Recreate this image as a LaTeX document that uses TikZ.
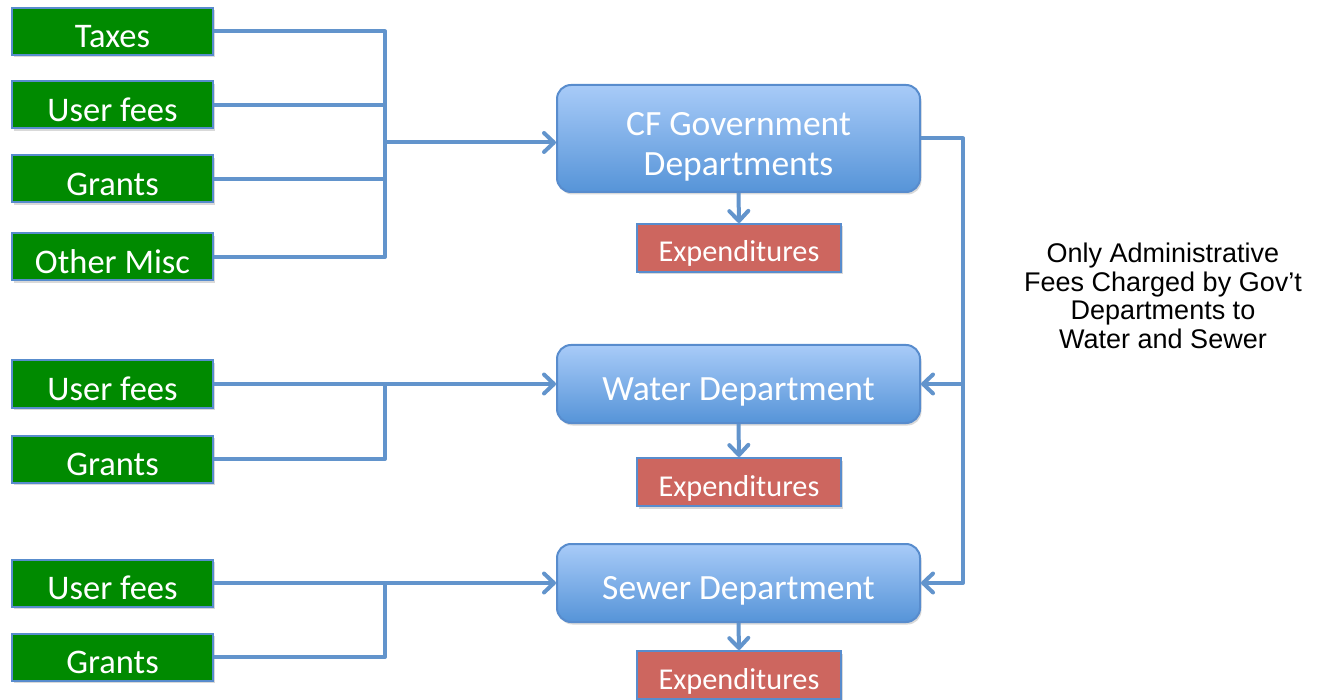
\documentclass[tikz,border=0pt]{standalone}
\usepackage{fontspec}
\setmainfont{Carlito}
\newfontfamily\arialfont{Liberation Sans}
\usetikzlibrary{arrows.meta,shadows,calc}
\definecolor{conn}{RGB}{98,148,204}
\definecolor{boxline}{RGB}{88,140,205}
\definecolor{grn}{RGB}{0,138,0}
\definecolor{redbox}{RGB}{205,102,95}
\definecolor{deptop}{RGB}{168,203,248}
\definecolor{depbot}{RGB}{86,148,216}
\tikzset{
  srcbox/.style={draw=boxline, line width=2pt, fill=grn, text=white, minimum width=201pt, minimum height=47pt, inner sep=0pt,
    text height=33pt, text depth=0pt,
    font=\fontsize{34.5}{40}\selectfont, drop shadow={shadow xshift=1.5pt, shadow yshift=-2.5pt, opacity=0.3}},
  expbox/.style={draw=boxline, line width=2pt, fill=redbox, text=white, minimum width=204pt, minimum height=48pt, inner sep=0pt,
    text height=28pt, text depth=0pt,
    font=\fontsize{30.3}{36}\selectfont, drop shadow={shadow xshift=1.5pt, shadow yshift=-2.5pt, opacity=0.3}},
  deptbox/.style={draw=boxline, line width=2pt, rounded corners=14pt, top color=deptop, bottom color=depbot, text=white,
    minimum width=363pt, inner sep=0pt, font=\fontsize{35.5}{40}\selectfont,
    drop shadow={shadow xshift=1.5pt, shadow yshift=-2.5pt, opacity=0.3}},
  wire/.style={draw=conn, line width=4pt, line join=round},
  flow/.style={wire, -{Straight Barb[length=10pt,width=19pt,line width=4pt,round]}},
}
\begin{document}
\begin{tikzpicture}[x=1pt,y=-1pt]
\useasboundingbox (0,0) rectangle (1317,700);
% sources
\node[srcbox] (tax) at (112.5,31.5) {Taxes};
\node[srcbox] (uf1) at (112.5,105) {User fees};
\node[srcbox] (gr1) at (112.5,179) {Grants};
\node[srcbox] (oth) at (112.5,257) {Other Misc};
\node[srcbox] (uf2) at (112.5,384) {User fees};
\node[srcbox] (gr2) at (112.5,459) {Grants};
\node[srcbox] (uf3) at (112.5,583) {User fees};
\node[srcbox] (gr3) at (112.5,657) {Grants};
% departments
\node[deptbox, minimum height=107pt, text height=30pt, text depth=0pt] (cf) at (738.5,138.5)
  {\begin{tabular}{@{}c@{}}CF Government\\Departments\end{tabular}};
\node[deptbox, minimum height=78pt, text height=32pt, text depth=0pt] (wat) at (738.5,384) {Water Department};
\node[deptbox, minimum height=78pt, text height=32pt, text depth=0pt] (sew) at (738.5,583) {Sewer Department};
% expenditures
\node[expbox] (e1) at (739,248) {Expenditures};
\node[expbox] (e2) at (739,482) {Expenditures};
\node[expbox] (e3) at (739,675) {Expenditures};
% note
\node[align=center, font=\arialfont\fontsize{27}{28.7}\selectfont, inner sep=0pt] (note) at (1163,296)
  {Only Administrative\\Fees Charged by Gov’t\\Departments to\\Water and Sewer};
% junction coordinates
\coordinate (jx) at (385,0);
\coordinate (rx) at (963,0);
% group 1
\draw[wire] (tax.east) -- (jx |- tax.east) -- (jx |- oth.east) -- (oth.east);
\draw[wire] (uf1.east) -- (jx |- uf1.east);
\draw[wire] (gr1.east) -- (jx |- gr1.east);
\coordinate (cfin) at ($(cf.west)+(0,4)$);
\draw[flow] (jx |- cfin) -- (cfin);
% group 2
\draw[flow] (uf2.east) -- (wat.west);
\draw[wire] (gr2.east) -- (jx |- gr2.east) -- (jx |- uf2.east);
% group 3
\draw[flow] (uf3.east) -- (sew.west);
\draw[wire] (gr3.east) -- (jx |- gr3.east) -- (jx |- uf3.east);
% right side
\draw[flow] (cf.east) -- (rx |- cf.east) -- (rx |- sew.east) -- (sew.east);
\draw[flow] (rx |- wat.east) -- (wat.east);
% down arrows
\draw[flow] (cf.south) -- (e1.north);
\draw[flow] (wat.south) -- (e2.north);
\draw[flow] (sew.south) -- (e3.north);
\end{tikzpicture}
\end{document}
